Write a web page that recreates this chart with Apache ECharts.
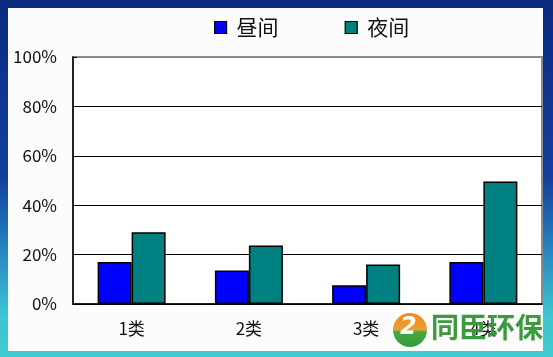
<!DOCTYPE html>
<html><head><meta charset="utf-8">
<script src="https://cdn.jsdelivr.net/npm/echarts@6/dist/echarts.min.js"></script>
<style>html,body{margin:0;padding:0;}#c{width:553px;height:357px;}</style>
</head><body><div id="c"></div>
<script>
const categories = ['1类', '2类', '3类', '4类'];
const dayValues = [17, 13.6, 7.6, 17];
const nightValues = [29, 23.7, 16, 49.6];
const yTicks = [0, 20, 40, 60, 80, 100];
const seriesNames = ['昼间', '夜间'];

const chart = echarts.init(document.getElementById('c'));
const font = 'Noto Sans CJK SC';
chart.setOption({
  animation: false,
  graphic: [
    { type: 'rect', z: -10, silent: true, shape: { x: 0, y: 0, width: 553, height: 357 },
      style: { fill: new echarts.graphic.LinearGradient(0, 0, 0, 1, [
        { offset: 0, color: '#0a2a80' }, { offset: 0.5, color: '#12409e' },
        { offset: 0.72, color: '#2a8cc4' }, { offset: 0.88, color: '#3cc4d0' }, { offset: 1, color: '#40cad2' }]) } },
    { type: 'rect', z: -9, silent: true, shape: { x: 8, y: 8, width: 535, height: 343 },
      style: { fill: '#fcfcfc' } },
    { type: 'circle', z: 10, silent: true, shape: { cx: 410, cy: 330, r: 17 },
      style: { fill: new echarts.graphic.LinearGradient(0, 0, 0, 1, [
        { offset: 0, color: '#f28a1e' }, { offset: 0.5, color: '#e8a030' }, { offset: 0.55, color: '#4aa842' }, { offset: 1, color: '#2f9a3a' }]) } },
    { type: 'text', z: 11, silent: true, left: 400, top: 316,
      style: { text: '2', fill: '#ffffff', font: 'bold italic 24px "DejaVu Sans"' } },
    { type: 'text', z: 10, silent: true, left: 431, top: 313,
      style: { text: '同臣环保', fill: '#3a9a3c', font: 'bold 28px "Noto Sans CJK SC"' } }
  ],
  legend: {
    data: seriesNames, left: 209, top: 12, itemWidth: 12, itemHeight: 12, itemGap: 66, icon: 'rect',
    textStyle: { fontFamily: font, fontSize: 21, color: '#111', padding: [0, 0, 0, 5] },
    itemStyle: { borderColor: '#000', borderWidth: 1.2 }
  },
  grid: { left: 73, top: 57, right: 11, bottom: 53, show: true, backgroundColor: '#ffffff',
          borderColor: '#8a8a8a', borderWidth: 2 },
  xAxis: {
    type: 'category', data: categories,
    axisLine: { lineStyle: { color: '#000', width: 1.5 } },
    axisTick: { inside: true, length: 6, lineStyle: { color: '#000' } },
    axisLabel: { fontFamily: font, fontSize: 17, color: '#111', margin: 16 }
  },
  yAxis: {
    type: 'value', min: 0, max: 100, interval: 20,
    axisLine: { show: true, lineStyle: { color: '#000', width: 1.5 } },
    axisTick: { show: true, inside: true, length: 4, lineStyle: { color: '#000' } },
    splitLine: { lineStyle: { color: ['#000', '#000', '#000', '#000', '#000', 'rgba(0,0,0,0)'], width: 1 } },
    axisLabel: { fontFamily: font, fontSize: 17, color: '#111', margin: 16,
      formatter: v => yTicks.includes(v) ? v + '%' : '' }
  },
  series: [
    { name: seriesNames[0], type: 'bar', data: dayValues, barWidth: 34, barGap: '0%',
      itemStyle: { color: '#0000ff', borderColor: '#000', borderWidth: 1.5 } },
    { name: seriesNames[1], type: 'bar', data: nightValues, barWidth: 34, barGap: '0%',
      itemStyle: { color: '#008080', borderColor: '#000', borderWidth: 1.5 } }
  ]
});
</script></body></html>
